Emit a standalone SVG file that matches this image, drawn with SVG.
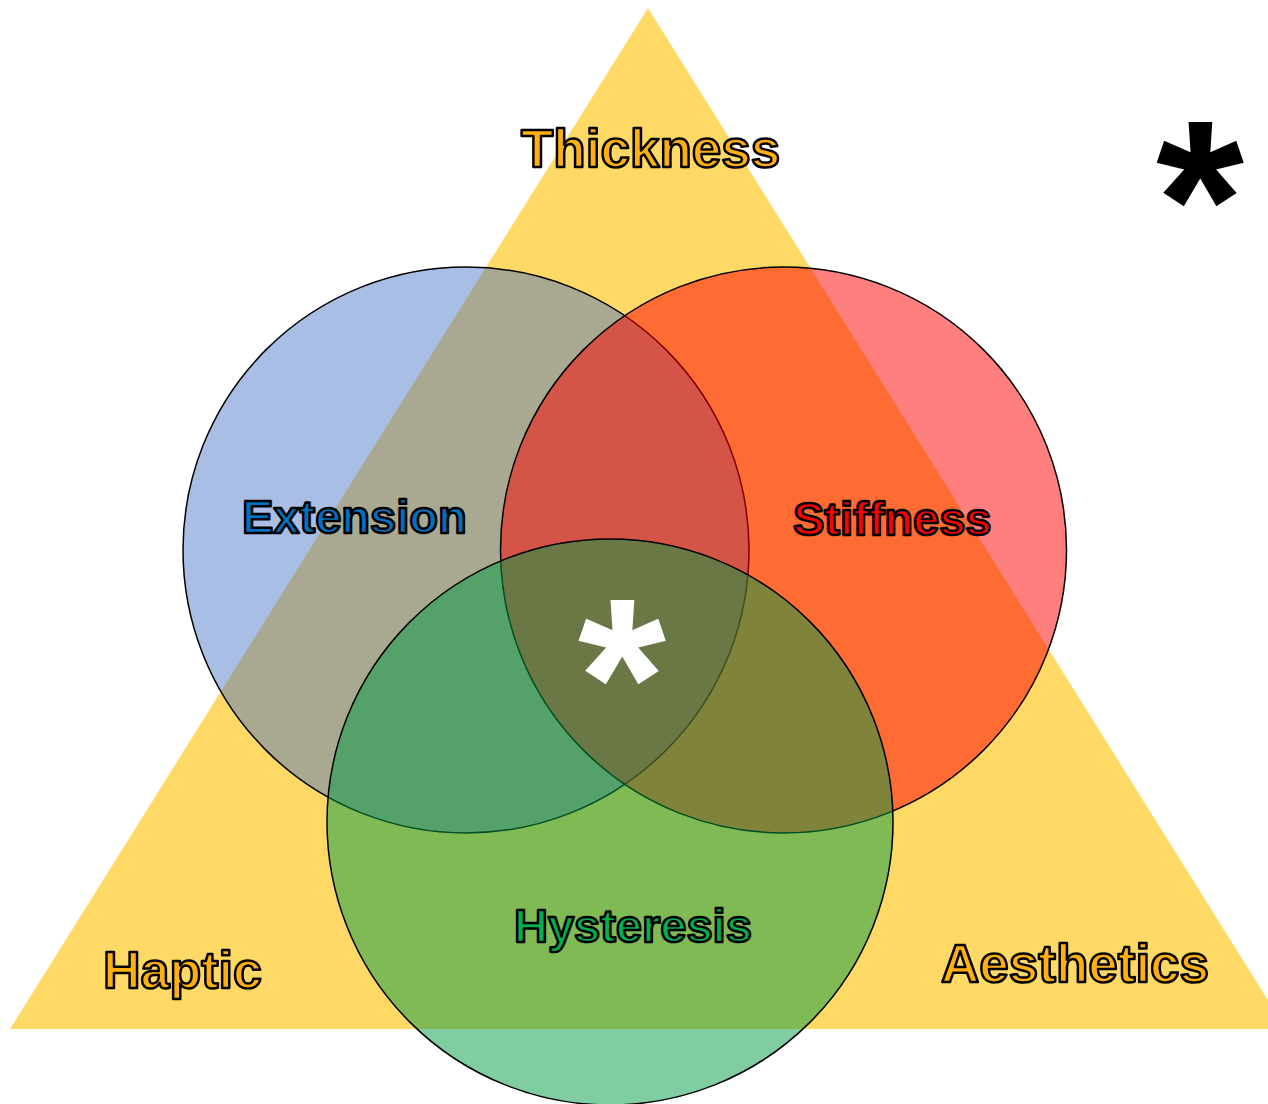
<svg xmlns="http://www.w3.org/2000/svg" width="1268" height="1104" viewBox="0 0 1268 1104">
<style>
.lbl{font-family:"Liberation Sans",Arial,sans-serif;font-weight:bold;stroke:#000;stroke-width:2.5;stroke-linejoin:round}
.orange{fill:#FFB010}
.circ{stroke:#000;stroke-width:1.5}
.ast{font-family:"Liberation Sans",Arial,sans-serif;font-weight:bold;text-anchor:middle}
</style>
<rect width="1268" height="1104" fill="#fff"/>
<g id="triangle">
<polygon points="648,8 10,1029 1286,1029" fill="#FFD966"/>
<text class="lbl orange" x="521" y="167" font-size="53">Thickness</text>
<text class="lbl orange" x="103" y="988" font-size="52">Haptic</text>
<text class="lbl orange" x="941" y="982" font-size="53">Aesthetics</text>
</g>
<g id="extension">
<circle class="circ" cx="466" cy="550" r="283" fill="rgba(68,114,196,0.46)"/>
</g>
<g id="stiffness">
<circle class="circ" cx="783.5" cy="550" r="283" fill="rgba(255,0,0,0.5)"/>
</g>
<g id="hysteresis">
<circle class="circ" cx="610" cy="822" r="283" fill="rgba(0,155,65,0.5)"/>
</g>
<g id="labels">
<text class="lbl" x="242" y="533" font-size="47" fill="#0070C0">Extension</text>
<text class="lbl" x="793" y="535" font-size="47" fill="#FF0000">Stiffness</text>
<text class="lbl" x="514" y="942" font-size="47" fill="#00B050">Hysteresis</text>
</g>
<g id="center-asterisk">
<text class="ast" x="622" y="756" font-size="226" fill="#fff">*</text>
</g>
<g id="corner-asterisk">
<text class="ast" x="1200" y="278" font-size="226" fill="#000">*</text>
</g>
</svg>
